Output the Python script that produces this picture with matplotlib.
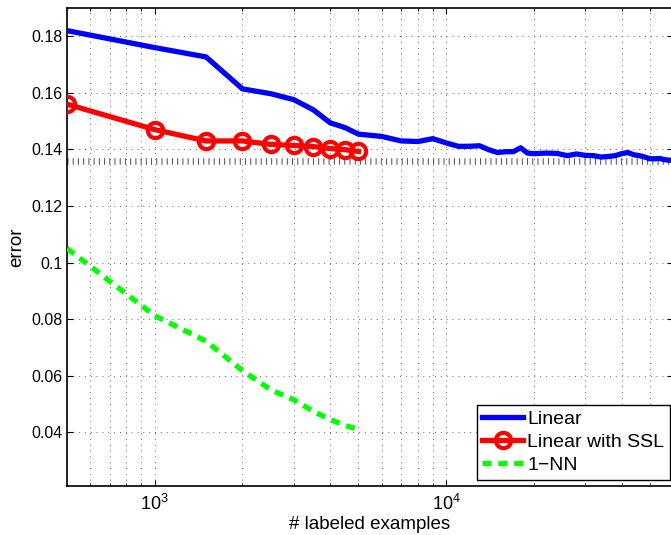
import matplotlib.pyplot as plt
from matplotlib.ticker import LogLocator, LogFormatterSciNotation, FixedLocator, FormatStrFormatter, NullFormatter

plt.rcParams['font.family'] = ['Liberation Sans', 'DejaVu Sans']
plt.rcParams['mathtext.default'] = 'regular'

# Data
ssl_x = [500, 1000, 1500, 2000, 2500, 3000, 3500, 4000, 4500, 5000]
ssl_err = [0.156, 0.147, 0.143, 0.143, 0.1418, 0.1414, 0.141, 0.1403, 0.1399, 0.1393]

nn_x = [500, 1000, 1500, 2000, 2500, 3000, 3500, 4000, 4500, 5000]
nn_err = [0.105, 0.0812, 0.0722, 0.0618, 0.0550, 0.0515, 0.0474, 0.0445, 0.0424, 0.0410]

linear_x = [500, 1000, 1500, 2000, 2500, 3000, 3500, 4000, 4500, 5000,
            6000, 7000, 8000, 9000, 10000, 11000, 12000, 13000, 14000, 15000,
            16000, 17000, 18000, 19000, 20000, 22000, 24000, 26000, 28000, 30000,
            32000, 34000, 36000, 38000, 40000, 42000, 44000, 46000, 48000, 50000,
            52000, 54000, 56000, 58000, 60000]
linear_err = [0.182, 0.176, 0.1727, 0.1614, 0.1597, 0.1576, 0.154, 0.1494, 0.1477, 0.1454,
              0.1446, 0.1430, 0.1428, 0.1438, 0.1423, 0.1411, 0.1411, 0.1413, 0.1399, 0.1389,
              0.1392, 0.1392, 0.1406, 0.1387, 0.1385, 0.1387, 0.1386, 0.1378, 0.1384, 0.1379,
              0.1378, 0.1373, 0.1375, 0.1378, 0.1385, 0.1389, 0.1381, 0.1378, 0.1373, 0.1367,
              0.1367, 0.1368, 0.1364, 0.1362, 0.1362]

ref_error = 0.136

y_ticks = [0.04, 0.06, 0.08, 0.1, 0.12, 0.14, 0.16, 0.18]

fig = plt.figure(figsize=(6.71, 5.35), dpi=100)
ax = fig.add_axes([67 / 671, 49 / 535, 606 / 671, 478 / 535])

# reference level drawn as a row of short vertical ticks
ax.axhline(ref_error, color='0.3', lw=4.7, dashes=(0.15, 0.65), zorder=1.5)

ax.plot(linear_x, linear_err, color='#0000ff', lw=3.8, label='Linear', zorder=3)
ax.plot(ssl_x, ssl_err, color='#ff0000', lw=3.8, marker='o', ms=11, mew=3,
        mfc='none', mec='#ff0000', label='Linear with SSL', zorder=4)
ax.plot(nn_x, nn_err, color='#00ff00', lw=3.8, dashes=(1.7, 1.3), label='1\u2212NN', zorder=3)

ax.set_xscale('log')
ax.set_xlim(500, 60000)
ax.set_ylim(0.021, 0.19)

ax.xaxis.set_major_locator(LogLocator(base=10))
ax.xaxis.set_major_formatter(LogFormatterSciNotation())
ax.xaxis.set_minor_locator(LogLocator(base=10, subs=range(2, 10)))
ax.xaxis.set_minor_formatter(NullFormatter())
ax.yaxis.set_major_locator(FixedLocator(y_ticks))
ax.yaxis.set_major_formatter(FormatStrFormatter('%g'))

ax.tick_params(which='both', direction='in', top=True, right=True, labelsize=11.5)
ax.tick_params(axis='x', labelsize=13, pad=6)
ax.tick_params(which='major', length=4, width=0.8)
ax.tick_params(which='minor', length=2.5, width=0.6)

for s in ax.spines.values():
    s.set_linewidth(1.2)

ax.grid(True, which='major', color='0.4', lw=0.7, linestyle=(0, (1, 5)))
ax.grid(True, which='minor', axis='x', color='0.4', lw=0.7, linestyle=(0, (1, 5)))

ax.set_xlabel('# labeled examples', fontsize=13.5, labelpad=1)
ax.set_ylabel('error', fontsize=13.5, labelpad=4)

leg = ax.legend(loc='lower right', bbox_to_anchor=(0.995, 0.0126), borderaxespad=0,
                fontsize=14, fancybox=False, framealpha=1, edgecolor='black',
                handlelength=2.1, handletextpad=0.2, labelspacing=0.28,
                borderpad=0.3)
leg.get_frame().set_linewidth(1.0)

fig.savefig('out.png', dpi=100)
